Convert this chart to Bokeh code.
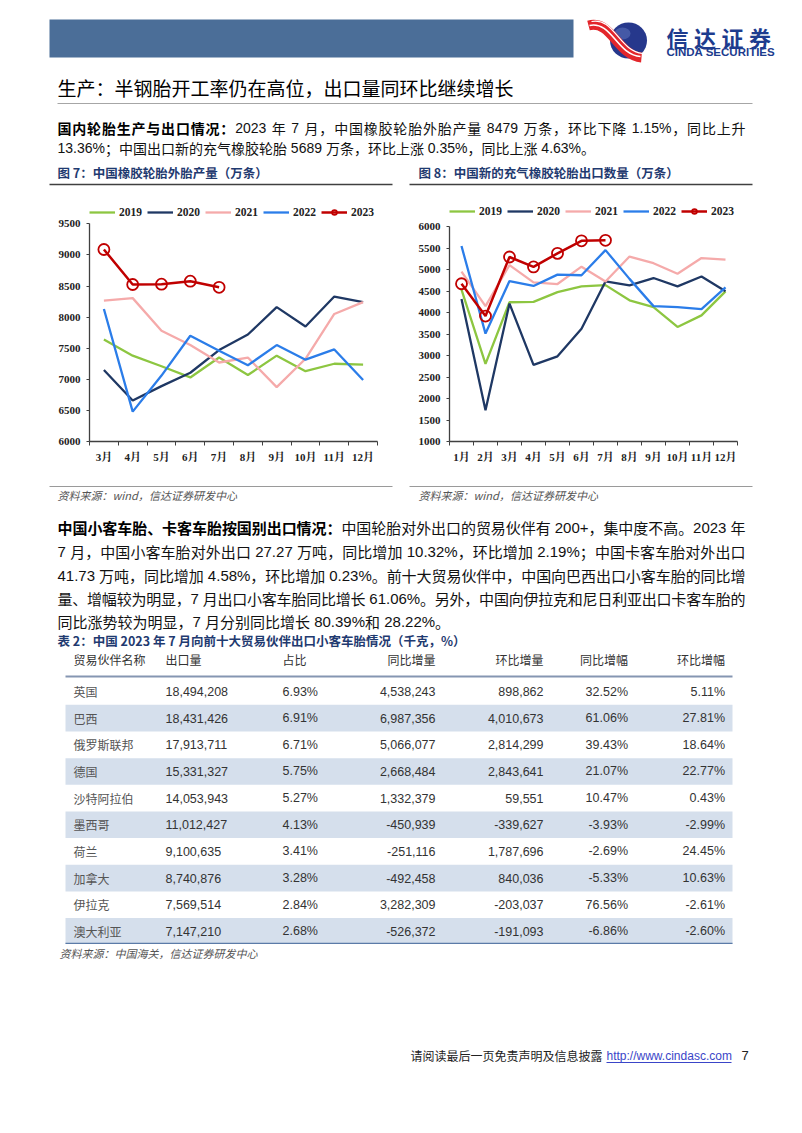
from bokeh.plotting import figure
from bokeh.layouts import column, row
from bokeh.models import Range1d, FixedTicker, Legend, LegendItem
from bokeh.core.properties import value
from bokeh.embed import file_html
from bokeh.resources import INLINE

# ---------------- data ----------------
years = ["2019", "2020", "2021", "2022", "2023"]

months_prod = ["3月", "4月", "5月", "6月", "7月", "8月", "9月", "10月", "11月", "12月"]
prod_2019 = [7640, 7380, 7210, 7030, 7350, 7070, 7380, 7130, 7250, 7235]
prod_2020 = [7150, 6660, 6890, 7105, 7470, 7720, 8160, 7850, 8330, 8240]
prod_2021 = [8265, 8305, 7780, 7550, 7270, 7350, 6875, 7330, 8050, 8240]
prod_2022 = [8130, 6480, 7060, 7700, 7460, 7225, 7550, 7315, 7480, 6990]
prod_2023 = [9087, 8524, 8529, 8577, 8479]
prod_ticks = [6000, 6500, 7000, 7500, 8000, 8500, 9000, 9500]

months_exp = ["1月", "2月", "3月", "4月", "5月", "6月", "7月", "8月", "9月", "10月", "11月", "12月"]
exp_2019 = [4540, 2810, 4245, 4255, 4480, 4615, 4645, 4290, 4130, 3670, 3940, 4500]
exp_2020 = [4320, 1730, 4215, 2785, 2985, 3630, 4730, 4640, 4810, 4615, 4845, 4500]
exp_2021 = [4960, 4155, 5110, 4710, 4670, 5075, 4730, 5310, 5155, 4910, 5275, 5240]
exp_2022 = [5555, 3515, 4740, 4625, 4890, 4875, 5460, 4790, 4155, 4130, 4085, 4590]
exp_2023 = [4677, 3923, 5300, 5069, 5385, 5677, 5689]
exp_ticks = [1000, 1500, 2000, 2500, 3000, 3500, 4000, 4500, 5000, 5500, 6000]

tbl_headers = ["贸易伙伴名称", "出口量", "占比", "同比增量", "环比增量", "同比增幅", "环比增幅"]
tbl_names = ["英国", "巴西", "俄罗斯联邦", "德国", "沙特阿拉伯", "墨西哥", "荷兰", "加拿大", "伊拉克", "澳大利亚"]
tbl_export = [18494208, 18431426, 17913711, 15331327, 14053943, 11012427, 9100635, 8740876, 7569514, 7147210]
tbl_share = [6.93, 6.91, 6.71, 5.75, 5.27, 4.13, 3.41, 3.28, 2.84, 2.68]
tbl_yoy_amt = [4538243, 6987356, 5066077, 2668484, 1332379, -450939, -251116, -492458, 3282309, -526372]
tbl_mom_amt = [898862, 4010673, 2814299, 2843641, 59551, -339627, 1787696, 840036, -203037, -191093]
tbl_yoy_pct = [32.52, 61.06, 39.43, 21.07, 10.47, -3.93, -2.69, -5.33, 76.56, -6.86]
tbl_mom_pct = [5.11, 27.81, 18.64, 22.77, 0.43, -2.99, 24.45, 10.63, -2.61, -2.60]

# ---------------- style ----------------
CJK = "'Noto Sans CJK SC'"
ASC = "'Liberation Sans'"
SERIF = "'Liberation Serif', 'Noto Serif CJK SC', 'Noto Sans CJK SC'"
NAVY = "#1F3A70"
colors = {"2019": "#8DC641", "2020": "#1F3864", "2021": "#F5AAAA", "2022": "#2B7DE9", "2023": "#C00000"}
PAGE_W = 802


def page_band(top, bottom):
    p = figure(width=PAGE_W, height=bottom - top, x_range=Range1d(0, PAGE_W), y_range=Range1d(bottom, top),
               x_axis_type=None, y_axis_type=None, toolbar_location=None, output_backend="svg",
               min_border=0, outline_line_color=None)
    p.xgrid.visible = False
    p.ygrid.visible = False
    return p


def txt(p, x, y, s, size=14, color="#111", style="normal", font=CJK, align="left"):
    p.text(x=[x], y=[y], text=[s], text_font=value(font), text_font_size=f"{size}px",
           text_color=color, text_font_style=style, text_align=align, text_baseline="middle")


ASCII_W = {".": 0.278, " ": 0.278, "%": 0.889, "+": 0.584, ",": 0.278, "-": 0.333}


def tokenize(s, bold):
    toks, buf = [], ""

    def flush():
        nonlocal buf
        if buf:
            toks.append((buf, False, bold))
            buf = ""

    for ch in s:
        if ch == " ":
            flush()
            toks.append((" ", False, bold))
        elif ord(ch) < 128:
            buf += ch
        else:
            flush()
            toks.append((ch, True, bold))
    flush()
    return toks


def para_line(p, y, segments, fs, x0=57, x1=745, justify=True, color="#111"):
    toks = []
    for s, b in segments:
        toks += tokenize(s, b)
    widths = [fs if cjk else sum(ASCII_W.get(c, 0.556) for c in t) * fs for t, cjk, b in toks]
    extra = (x1 - x0 - sum(widths)) / (len(toks) - 1) if justify else 0
    x = x0
    groups = {}
    for (t, cjk, b), w in zip(toks, widths):
        if t != " ":
            key = (cjk, b)
            groups.setdefault(key, ([], []))
            groups[key][0].append(x)
            groups[key][1].append(t)
        x += w + extra
    for (cjk, b), (xs, ts) in groups.items():
        p.text(x=xs, y=[y] * len(xs), text=ts, text_font=value(CJK if cjk else ASC),
               text_font_size=f"{fs}px", text_color="#000" if b else color,
               text_font_style="bold" if b else "normal", text_align="left", text_baseline="middle")


# ---------------- band A: header, title, paragraph 1, captions ----------------
A = page_band(0, 196)
A.quad(left=[49], right=[573], top=[19], bottom=[57], fill_color="#4B6E98", line_color=None)
# logo
A.ellipse(x=[628], y=[40], width=[37], height=[36], fill_color="#26388C", line_color=None)
A.ellipse(x=[622], y=[33], width=[16], height=[12], fill_color="#5A6FB8", line_color=None, fill_alpha=0.6)
A.bezier(x0=[588], y0=[25], x1=[641], y1=[57], cx0=[611], cy0=[19], cx1=[617], cy1=[55],
         line_color="#E3262B", line_width=10)
A.bezier(x0=[589], y0=[25], x1=[640], y1=[56], cx0=[611], cy0=[20], cx1=[617], cy1=[55],
         line_color="white", line_width=1.6)
A.bezier(x0=[591], y0=[21], x1=[642], y1=[53], cx0=[613], cy0=[16], cx1=[619], cy1=[51],
         line_color="white", line_width=1.2)
brand = "信达证券"
A.text(x=[666 + 27.5 * i for i in range(len(brand))], y=[36] * len(brand), text=list(brand),
       text_font=value(CJK), text_font_size="22px", text_color="#1D3C8E", text_font_style="bold",
       text_align="left", text_baseline="middle")
txt(A, 666, 51.5, "CINDA SECURITIES", size=11.5, color="#1D3C8E", style="bold", font=ASC)
# title
txt(A, 57, 87, "生产：半钢胎开工率仍在高位，出口量同环比继续增长", size=19, color="#000")
A.segment(x0=[57], y0=[103], x1=[752], y1=[103], line_color="#A6A6A6", line_width=1)
# paragraph 1
para_line(A, 127, [("国内轮胎生产与出口情况：", True),
                   ("2023 年 7 月，中国橡胶轮胎外胎产量 8479 万条，环比下降 1.15%，同比上升", False)], 14)
para_line(A, 147, [("13.36%；中国出口新的充气橡胶轮胎 5689 万条，环比上涨 0.35%，同比上涨 4.63%。", False)],
          14, justify=False)
# captions
txt(A, 57, 172, "图 7：中国橡胶轮胎外胎产量（万条）", size=12.5, style="bold", color=NAVY)
txt(A, 418, 172, "图 8：中国新的充气橡胶轮胎出口数量（万条）", size=12.5, style="bold", color=NAVY)
A.segment(x0=[49, 409], y0=[184, 184], x1=[392, 752], y1=[184, 184], line_color="#404040", line_width=1.5)


# ---------------- band B: charts ----------------
BAND_B_TOP = 196
BAND_B_H = 276


def make_chart(months, series, yr, yticks, width, left, right, axis_top, axis_bottom, leg_center):
    """axis_top / axis_bottom / leg_center: page y positions (px)."""
    n = len(months)
    xs = [i + 0.5 for i in range(n)]
    frame_top = 2
    mb_bottom = int(round(BAND_B_TOP + BAND_B_H - axis_bottom))
    bottom_px = BAND_B_TOP + BAND_B_H - mb_bottom
    per_px = (yr[1] - yr[0]) / (bottom_px - axis_top)
    y_end = yr[1] + (axis_top - (BAND_B_TOP + frame_top)) * per_px
    p = figure(width=width, height=BAND_B_H, x_range=Range1d(0, n), y_range=Range1d(yr[0], y_end),
               toolbar_location=None, output_backend="svg",
               min_border_left=left, min_border_right=right, min_border_top=frame_top,
               min_border_bottom=mb_bottom, outline_line_color=None)
    p.xgrid.visible = False
    p.ygrid.visible = False
    items = []
    for y in years:
        vals = series[y]
        r = p.line(xs[:len(vals)], vals, line_color=colors[y], line_width=2.3 if y != "2023" else 2.5)
        rs = [r]
        if y == "2023":
            m = p.scatter(xs[:len(vals)], vals, marker="circle", size=11, fill_color=None,
                          line_color=colors[y], line_width=1.8)
            rs.append(m)
        items.append(LegendItem(label=y, renderers=rs))
    leg_h = 12
    leg = Legend(items=items, orientation="horizontal",
                 location=(0, bottom_px - leg_center - leg_h / 2),
                 background_fill_alpha=0, border_line_alpha=0, padding=0, margin=0, spacing=5,
                 glyph_width=26, glyph_height=leg_h, label_standoff=4, label_height=leg_h,
                 label_text_font=SERIF, label_text_font_style="bold", label_text_font_size="11.5px",
                 label_text_color="#222")
    p.add_layout(leg, "center")
    ax = p.xaxis[0]
    ax.ticker = FixedTicker(ticks=xs, minor_ticks=list(range(n + 1)))
    ax.major_label_overrides = {x: m for x, m in zip(xs, months)}
    ax.major_tick_out = 0
    ax.major_tick_in = 0
    ax.minor_tick_out = 4
    ax.minor_tick_in = 0
    ax.minor_tick_line_color = "#404040"
    ax.major_label_standoff = 5
    ay = p.yaxis[0]
    ay.ticker = FixedTicker(ticks=yticks)
    ay.bounds = (yr[0], yr[1])
    ay.major_tick_out = 3
    ay.major_tick_in = 0
    ay.minor_tick_out = 0
    ay.minor_tick_in = 0
    ay.major_label_standoff = 6
    for a in (ax, ay):
        a.axis_line_color = "#404040"
        a.axis_line_width = 1.3
        a.major_tick_line_color = "#404040"
        a.major_label_text_font = SERIF
        a.major_label_text_font_style = "bold"
        a.major_label_text_font_size = "11px"
        a.major_label_text_color = "#222"
    return p


c1 = make_chart(months_prod,
                {"2019": prod_2019, "2020": prod_2020, "2021": prod_2021, "2022": prod_2022, "2023": prod_2023},
                (6000, 9500), prod_ticks, 400, 89, 23, 223.3, 441, 212)
c2 = make_chart(months_exp,
                {"2019": exp_2019, "2020": exp_2020, "2021": exp_2021, "2022": exp_2022, "2023": exp_2023},
                (1000, 6000), exp_ticks, 402, 49, 65, 226.7, 443, 212.7)
B = row(c1, c2, spacing=0)

# ---------------- band C: sources, paragraph 2, table caption ----------------
C = page_band(472, 650)
C.segment(x0=[49, 409], y0=[486, 486], x1=[392, 752], y1=[486, 486], line_color="#9A9A9A", line_width=1)
txt(C, 57, 494, "资料来源：wind，信达证券研发中心", size=11, color="#555", style="italic")
txt(C, 418, 494, "资料来源：wind，信达证券研发中心", size=11, color="#555", style="italic")
para_line(C, 527, [("中国小客车胎、卡客车胎按国别出口情况：", True),
                   ("中国轮胎对外出口的贸易伙伴有 200+，集中度不高。2023 年", False)], 15)
para_line(C, 551, [("7 月，中国小客车胎对外出口 27.27 万吨，同比增加 10.32%，环比增加 2.19%；中国卡客车胎对外出口", False)], 15)
para_line(C, 575, [("41.73 万吨，同比增加 4.58%，环比增加 0.23%。前十大贸易伙伴中，中国向巴西出口小客车胎的同比增", False)], 15)
para_line(C, 598, [("量、增幅较为明显，7 月出口小客车胎同比增长 61.06%。另外，中国向伊拉克和尼日利亚出口卡客车胎的", False)], 15)
para_line(C, 621, [("同比涨势较为明显，7 月分别同比增长 80.39%和 28.22%。", False)], 15, justify=False)
txt(C, 57, 640, "表 2：中国 2023 年 7 月向前十大贸易伙伴出口小客车胎情况（千克，%）", size=12.5, style="bold", color=NAVY)

# ---------------- table ----------------
ROW0, ROW_H, T_TOP, T_BOT = 691.0, 26.65, 650, 944


def ry(v):
    return (v - ROW0) / ROW_H


T = figure(width=PAGE_W, height=T_BOT - T_TOP, x_range=Range1d(0, PAGE_W), y_range=Range1d(ry(T_BOT), ry(T_TOP)),
           x_axis_type=None, y_axis_type=None, toolbar_location=None, output_backend="svg",
           min_border=0, outline_line_color=None)
T.xgrid.visible = False
T.ygrid.visible = False
n = len(tbl_names)
idx = list(range(n))
shade = [i for i in idx if i % 2 == 1]
T.hbar(y=shade, left=65, right=732, height=1, fill_color="#D5DFEC", line_color=None)
T.segment(x0=[65], y0=[ry(676)], x1=[732], y1=[ry(676)], line_color="#8596B2", line_width=2)
T.segment(x0=[65], y0=[ry(943)], x1=[732], y1=[ry(943)], line_color="#5B7BA8", line_width=1.5)

col_x = [73, 165, 282, 435, 543, 627.5, 724.5]
col_align = ["left", "left", "left", "right", "right", "right", "right"]
hy = ry(659)
for h, x, al in zip(tbl_headers, col_x, col_align):
    T.text(x=[x], y=[hy], text=[h], text_font=value(CJK), text_font_size="12px", text_color="#333",
           text_align=al, text_baseline="middle")

cols = [
    tbl_names,
    [f"{v:,}" for v in tbl_export],
    [f"{v:.2f}%" for v in tbl_share],
    [f"{v:,}" for v in tbl_yoy_amt],
    [f"{v:,}" for v in tbl_mom_amt],
    [f"{v:.2f}%" for v in tbl_yoy_pct],
    [f"{v:.2f}%" for v in tbl_mom_pct],
]
for j, (vals, x, al) in enumerate(zip(cols, col_x, col_align)):
    T.text(x=[x] * n, y=idx, text=vals,
           text_font=value(CJK if j == 0 else ASC),
           text_font_size="12px" if j == 0 else "12.5px", text_color="#555" if j == 0 else "#333",
           text_align=al, text_baseline="middle")

# ---------------- band D: source + footer ----------------
D = page_band(944, 1133)
txt(D, 59, 952.5, "资料来源：中国海关，信达证券研发中心", size=11, color="#555", style="italic")
txt(D, 410, 1055, "请阅读最后一页免责声明及信息披露", size=12, color="#222")
txt(D, 606, 1055, "http://www.cindasc.com", size=12, color="#3A45C8", font=ASC)
D.segment(x0=[606], y0=[1062], x1=[731], y1=[1062], line_color="#3A45C8", line_width=1)
txt(D, 741, 1055, "7", size=13, color="#222", font=ASC)

page = column(A, B, C, T, D, spacing=0)
open("out.html", "w").write(file_html(page, INLINE, title="chart"))
